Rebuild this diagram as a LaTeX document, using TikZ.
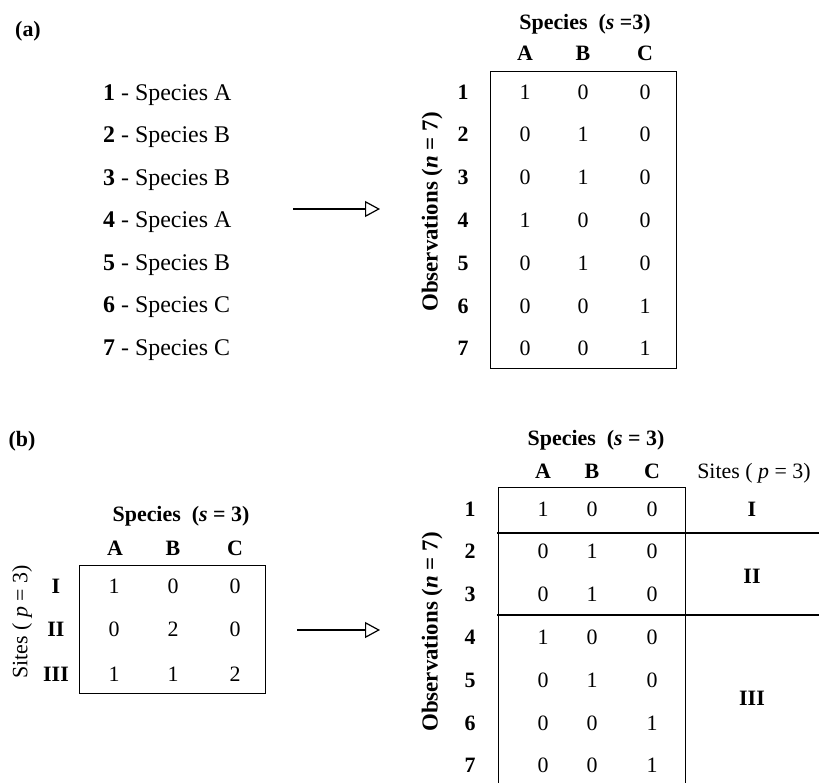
\documentclass[tikz,border=0pt]{standalone}
\usepackage{fontspec}
\setmainfont{Liberation Serif}
\usetikzlibrary{arrows.meta}
\begin{document}
\begin{tikzpicture}[x=1bp,y=-1bp,
  txt/.style={inner sep=0pt, anchor=base, font=\fontsize{22}{26}\selectfont},
  bld/.style={inner sep=0pt, anchor=base, font=\fontsize{22}{26}\selectfont\bfseries},
  listtxt/.style={inner sep=0pt, anchor=base west, font=\fontsize{24}{28}\selectfont},
  rot/.style={inner sep=0pt, anchor=center, rotate=90, font=\fontsize{22}{26}\selectfont},
  rotb/.style={rot, font=\fontsize{23}{27}\selectfont\bfseries},
  conv/.style={-{Triangle[open,length=15bp,width=16bp,line width=1.2bp]}, line width=1.4bp},
  frame/.style={draw, line width=0.9bp},
  sep/.style={draw, line width=1.2bp}]
\useasboundingbox (0,0) rectangle (819,783);
\clip (0,0) rectangle (819,783);

% ---------------- (a) ----------------
\node[bld] (labA) at (28,37) {(a)};
\foreach \sp [count=\k] in {A,B,B,A,B,C,C}{
  \node[listtxt] (list\k) at (103,{100+42.5*(\k-1)}) {\textbf{\k} - Species \sp};
}
\coordinate (aS) at (293,209);
\coordinate (aE) at (380,209);
\draw[conv] (aS) -- (aE);

\node[bld] (spA) at (585,30) {Species\ \ (\textit{s} =3)};
\foreach \c/\x in {A/525,B/583,C/645}{
  \node[bld] (hA\c) at (\x,61) {\c};
}
\draw[frame] (490,71) rectangle (676,368);
\node[rotb] (obsA) at (432,212) {Observations (\textit{n} = 7)};
\foreach \a/\b/\cc [count=\k] in {1/0/0,0/1/0,0/1/0,1/0/0,0/1/0,0/0/1,0/0/1}{
  \node[bld] (rA\k) at (463,{99+42.8*(\k-1)}) {\k};
  \node[txt] (cA\k a) at (525,{99+42.8*(\k-1)}) {\a};
  \node[txt] (cA\k b) at (583,{99+42.8*(\k-1)}) {\b};
  \node[txt] (cA\k c) at (645,{99+42.8*(\k-1)}) {\cc};
}

% ---------------- (b) ----------------
\node[bld] (labB) at (22,446) {(b)};

\node[bld] (spB) at (181,521) {Species\ \ (\textit{s} = 3)};
\foreach \c/\x in {A/115,B/173,C/235}{
  \node[bld] (hB\c) at (\x,555) {\c};
}
\draw[frame] (79,565) rectangle (265,693);
\node[rot] (sitesB) at (22,622) {Sites ( \textit{p} = 3)};
\foreach \r/\y/\a/\b/\cc in {I/593/1/0/0,II/636/0/2/0,III/681/1/1/2}{
  \node[bld] (sB\r) at (56,\y) {\r};
  \node[txt] (cB\r a) at (114,\y) {\a};
  \node[txt] (cB\r b) at (173,\y) {\b};
  \node[txt] (cB\r c) at (235,\y) {\cc};
}

\coordinate (bS) at (297,630);
\coordinate (bE) at (380,630);
\draw[conv] (bS) -- (bE);

\node[bld] (spC) at (596,445) {Species\ \ (\textit{s} = 3)};
\foreach \c/\x in {A/543,B/592,C/652}{
  \node[bld] (hC\c) at (\x,478) {\c};
}
\node[txt] (sitesC) at (754,478) {Sites ( \textit{p} = 3)};
\draw[frame] (498,800) -- (498,487) -- (685,487) -- (685,800);
\node[rotb] (obsC) at (432,632) {Observations (\textit{n} = 7)};
\foreach \a/\b/\cc [count=\k] in {1/0/0,0/1/0,0/1/0,1/0/0,0/1/0,0/0/1,0/0/1}{
  \node[bld] (rC\k) at (470,{516+42.8*(\k-1)}) {\k};
  \node[txt] (cC\k a) at (543,{516+42.8*(\k-1)}) {\a};
  \node[txt] (cC\k b) at (592,{516+42.8*(\k-1)}) {\b};
  \node[txt] (cC\k c) at (652,{516+42.8*(\k-1)}) {\cc};
}
\coordinate (l1s) at (497,533);
\coordinate (l1e) at (819,533);
\coordinate (l2s) at (497,615);
\coordinate (l2e) at (819,615);
\draw[sep] (l1s) -- (l1e);
\draw[sep] (l2s) -- (l2e);
\node[bld] (siteI) at (752,516) {I};
\node[bld] (siteII) at (752,583) {II};
\node[bld] (siteIII) at (752,705) {III};
\end{tikzpicture}
\end{document}
